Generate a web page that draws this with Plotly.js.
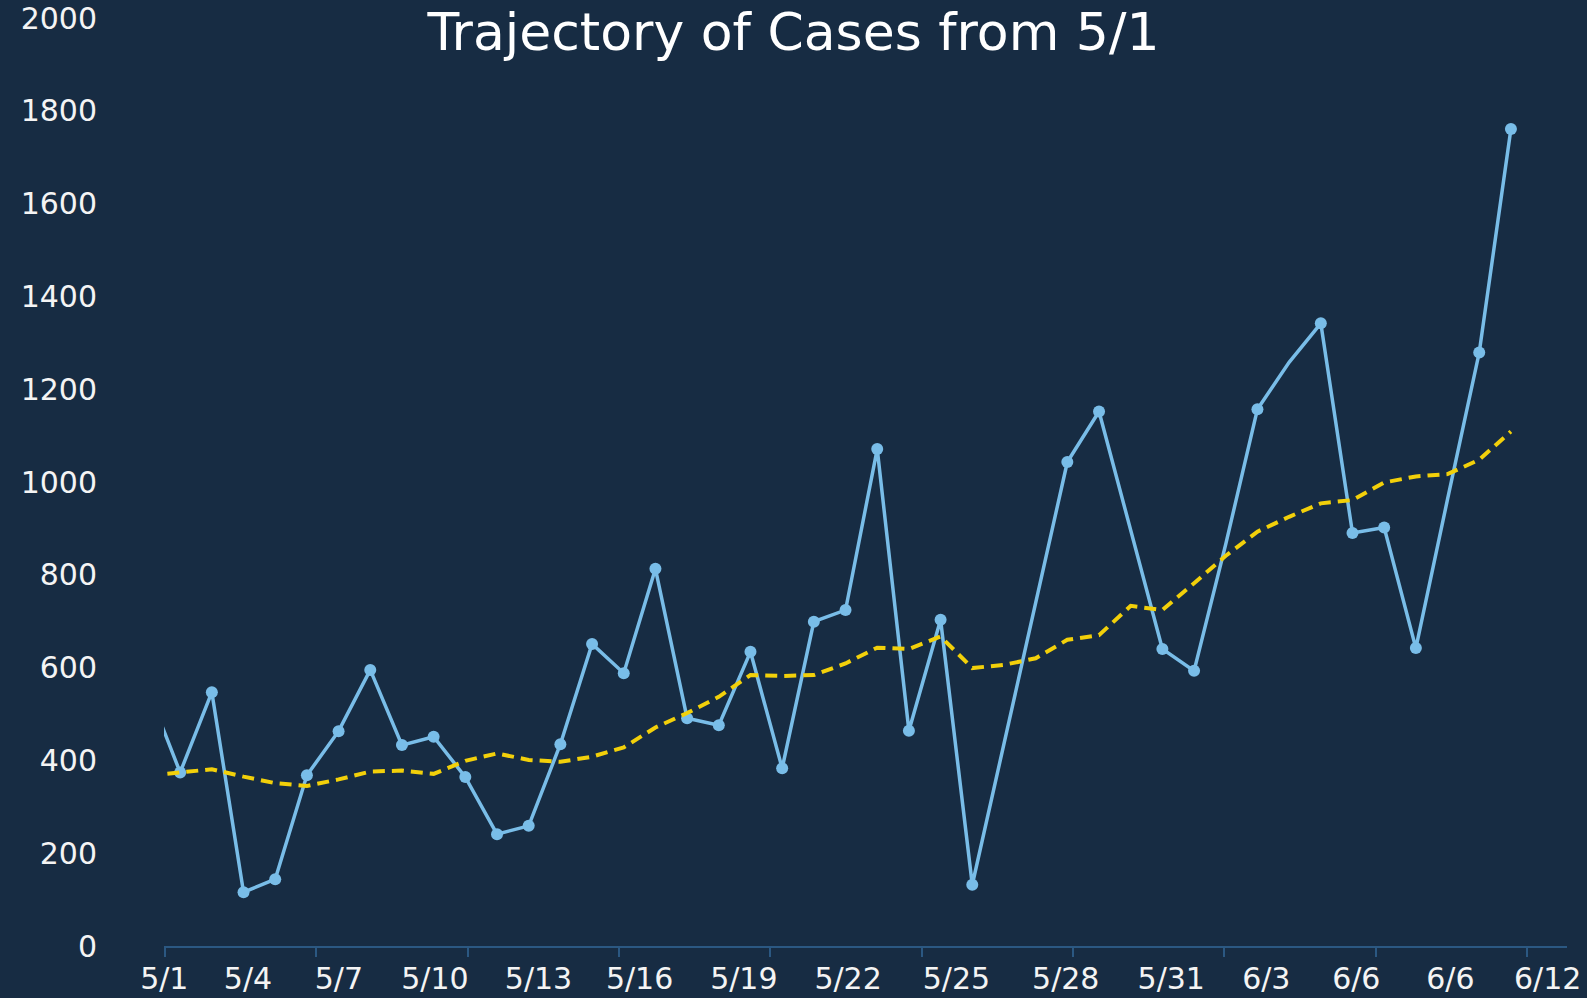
<!DOCTYPE html>
<html>
<head>
<meta charset="utf-8">
<script src="https://cdn.plot.ly/plotly-3.0.1.min.js"></script>
<style>
  html, body { margin: 0; padding: 0; background: #172c43; }
  #chart { width: 1587px; height: 998px; }
</style>
</head>
<body>
<div id="chart"></div>
<script>
// ---- Data ----
const dates = ['4/30','5/1','5/2','5/3','5/4','5/5','5/6','5/7','5/8','5/9','5/10',
  '5/11','5/12','5/13','5/14','5/15','5/16','5/17','5/18','5/19','5/20',
  '5/21','5/22','5/23','5/24','5/25','5/26','5/27','5/28','5/29','5/30',
  '5/31','6/1','6/2','6/3','6/4','6/5','6/6','6/7','6/8','6/9',
  '6/10','6/11','6/12'];

const dailyCases = [549, 374, 547, 116, 144, 368, 463, 595, 433, 451, 364,
  241, 259, 435, 651, 588, 813, 491, 476, 634, 383,
  699, 724, 1071, 464, 703, 132, 436, 740, 1043, 1152,
  898, 640, 593, 866, 1157, 1258, 1342, 890, 902, 642,
  963, 1279, 1761];

const movingAverage = [367, 374, 381, 365, 351, 345, 359, 376, 378, 371, 399,
  415, 401, 397, 408, 428, 471, 502, 537, 584, 582,
  584, 609, 643, 640, 667, 599, 606, 620, 660, 670,
  733, 724, 782, 841, 893, 925, 954, 961, 999, 1012,
  1017, 1048, 1109];

// days drawn on the line without a dot
const unmarkedDates = ['4/30', '5/27', '5/28', '5/31', '6/3', '6/5', '6/10'];

const tickLabels = ['5/1','5/4','5/7','5/10','5/13','5/16','5/19','5/22',
  '5/25','5/28','5/31','6/3','6/6','6/6','6/12'];

// ---- Helpers ----
const monthStart = {4: 0, 5: 30, 6: 61};
function dayIndex(md) {
  const [m, d] = md.split('/').map(Number);
  return monthStart[m] + d - (monthStart[5] + 1); // days since 5/1
}
const xDays = dates.map(dayIndex);

const BG = '#172c43';
const BLUE = '#79bde8';
const YELLOW = '#f2d00a';
const AXIS = '#2b5882';
const TEXT = '#f4f4f4';
const FONT = 'DejaVu Sans, Liberation Sans, sans-serif';

const markerSizes = dates.map(d => unmarkedDates.includes(d) ? 0 : 12);

const traces = [
  {
    x: xDays, y: movingAverage, xaxis: 'x2', yaxis: 'y',
    type: 'scatter', mode: 'lines',
    line: {color: YELLOW, width: 4, dash: '12px,7px'},
    hoverinfo: 'skip'
  },
  {
    x: xDays, y: dailyCases, xaxis: 'x', yaxis: 'y',
    type: 'scatter', mode: 'lines+markers',
    line: {color: BLUE, width: 3.5},
    marker: {color: BLUE, size: markerSizes, opacity: 1, line: {width: 0}},
    hoverinfo: 'skip'
  }
];

const xRange = [-0.51, 43.77];

const layout = {
  width: 1587, height: 998,
  paper_bgcolor: BG, plot_bgcolor: BG,
  showlegend: false,
  hovermode: false,
  margin: {l: 164, r: 20, t: 18, b: 52, pad: 0},
  font: {family: FONT, color: TEXT, size: 30},
  title: {
    text: 'Trajectory of Cases from 5/1',
    font: {family: FONT, size: 52, color: '#ffffff'},
    x: 0.5, xref: 'container', xanchor: 'center',
    y: 0.968, yref: 'container', yanchor: 'middle'
  },
  xaxis: {
    range: xRange,
    showgrid: false, zeroline: false,
    showline: true, linecolor: AXIS, linewidth: 2,
    ticks: 'outside', ticklen: 9, tickwidth: 2, tickcolor: AXIS,
    tickmode: 'linear', tick0: -0.48, dtick: 4.776,
    showticklabels: false,
    fixedrange: true
  },
  xaxis2: {
    overlaying: 'x', anchor: 'y', side: 'bottom',
    range: xRange,
    showgrid: false, zeroline: false, showline: false,
    ticks: '',
    tickmode: 'array',
    tickvals: [-0.50, 2.14, 5.01, 8.04, 11.31, 14.50, 17.79, 21.08, 24.50, 27.95, 31.28, 34.28, 37.12, 40.09, 43.16],
    ticktext: tickLabels,
    ticklabelstandoff: 12,
    tickfont: {family: FONT, size: 30, color: TEXT},
    fixedrange: true
  },
  yaxis: {
    range: [0, 2000],
    tickmode: 'linear', tick0: 0, dtick: 200,
    showgrid: false, zeroline: false, showline: false,
    ticks: '',
    ticklabelstandoff: 66,
    tickfont: {family: FONT, size: 30, color: TEXT},
    fixedrange: true
  }
};

Plotly.newPlot('chart', traces, layout, {displayModeBar: false, staticPlot: true});
</script>
</body>
</html>
